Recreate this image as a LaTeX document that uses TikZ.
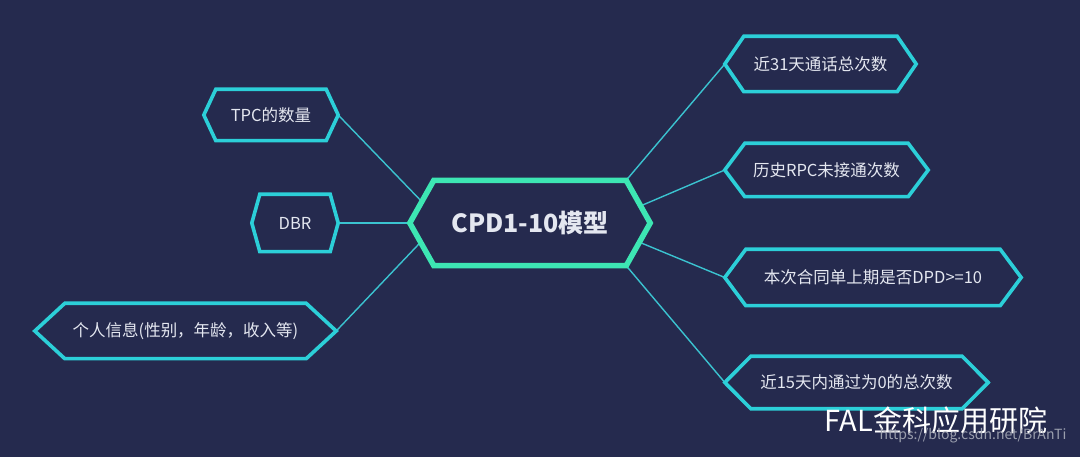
\documentclass[tikz,border=0pt]{standalone}
\usepackage{fontspec}
\setmainfont{Noto Sans CJK SC}
\usetikzlibrary{calc}
\definecolor{bg}{HTML}{252A4E}
\definecolor{mint}{HTML}{3DE6B3}
\definecolor{cyanb}{HTML}{2CCFD8}
\definecolor{connc}{HTML}{3BC3D0}
\definecolor{txt}{HTML}{E4E7F0}
\definecolor{wm}{HTML}{A7ABB8}
\newcommand\hexdraw[3]{%
  \draw[#3] (#1.west) -- ([xshift=#2]#1.north west) -- ([xshift=-#2]#1.north east)
    -- (#1.east) -- ([xshift=-#2]#1.south east) -- ([xshift=#2]#1.south west) -- cycle;}
\begin{document}
\begin{tikzpicture}[x=1pt,y=-1pt,
  leaf/.style={inner sep=0pt, text=txt, font=\fontsize{16.5}{20}\selectfont},
  hub/.style={inner sep=0pt, text=txt, font=\fontsize{25}{30}\selectfont\bfseries},
  leafline/.style={draw=cyanb, line width=3.6pt, line join=miter},
  hubline/.style={draw=mint, line width=5.5pt, line join=miter},
  conn/.style={draw=connc, line width=1.4pt}]
\useasboundingbox (0,0) rectangle (1080,457);
\fill[bg] (0,0) rectangle (1080,457);

% central node
\node[hub, minimum width=240pt, minimum height=85pt] (c) at (530,223) {CPD1-10模型};
% left leaves
\node[leaf, minimum width=134pt, minimum height=51pt] (tpc) at (271,115) {TPC的数量};
\node[leaf, minimum width=86pt, minimum height=57pt] (dbr) at (295,223) {DBR};
\node[leaf, minimum width=301pt, minimum height=55pt] (info) at (185.5,331) {个人信息(性别，年龄，收入等)};
% right leaves
\node[leaf, minimum width=191pt, minimum height=55pt] (r1) at (820.5,64) {近31天通话总次数};
\node[leaf, minimum width=203pt, minimum height=53pt] (r2) at (826.5,170) {历史RPC未接通次数};
\node[leaf, minimum width=296pt, minimum height=56pt] (r3) at (873,277.5) {本次合同单上期是否DPD>=10};
\node[leaf, minimum width=263pt, minimum height=52pt] (r4) at (856.5,382.5) {近15天内通过为0的总次数};

% attachment points on the central hexagon
\coordinate (cnw) at ([xshift=24pt]c.north west);
\coordinate (csw) at ([xshift=24pt]c.south west);
\coordinate (cne) at ([xshift=-24pt]c.north east);
\coordinate (cse) at ([xshift=-24pt]c.south east);
\coordinate (cul) at ($(c.west)!0.5!(cnw)$);
\coordinate (cll) at ($(c.west)!0.45!(csw)$);
\coordinate (cur) at ($(c.east)!0.4!(cne)$);
\coordinate (clr) at ($(c.east)!0.45!(cse)$);

% connectors
\draw[conn] (tpc.east) -- (cul);
\draw[conn] (dbr.east) -- (c.west);
\draw[conn] (info.east) -- (cll);
\draw[conn] (r1.west) -- (cne);
\draw[conn] (r2.west) -- (cur);
\draw[conn] (r3.west) -- (clr);
\draw[conn] (r4.west) -- (cse);

% hexagon frames
\hexdraw{c}{24pt}{hubline}
\hexdraw{tpc}{12pt}{leafline}
\hexdraw{dbr}{8pt}{leafline}
\hexdraw{info}{30pt}{leafline}
\hexdraw{r1}{19pt}{leafline}
\hexdraw{r2}{20pt}{leafline}
\hexdraw{r3}{21pt}{leafline}
\hexdraw{r4}{26pt}{leafline}

% watermark
\node[inner sep=0pt, text=white, font=\fontsize{29}{34}\selectfont] (wm1) at (936,420) {FAL金科应用研院};
\node[inner sep=0pt, text=wm, opacity=0.9, font=\fontsize{14}{16}\selectfont] (wm2) at (973,436) {https://blog.csdn.net/BrAnTi};
\end{tikzpicture}
\end{document}
